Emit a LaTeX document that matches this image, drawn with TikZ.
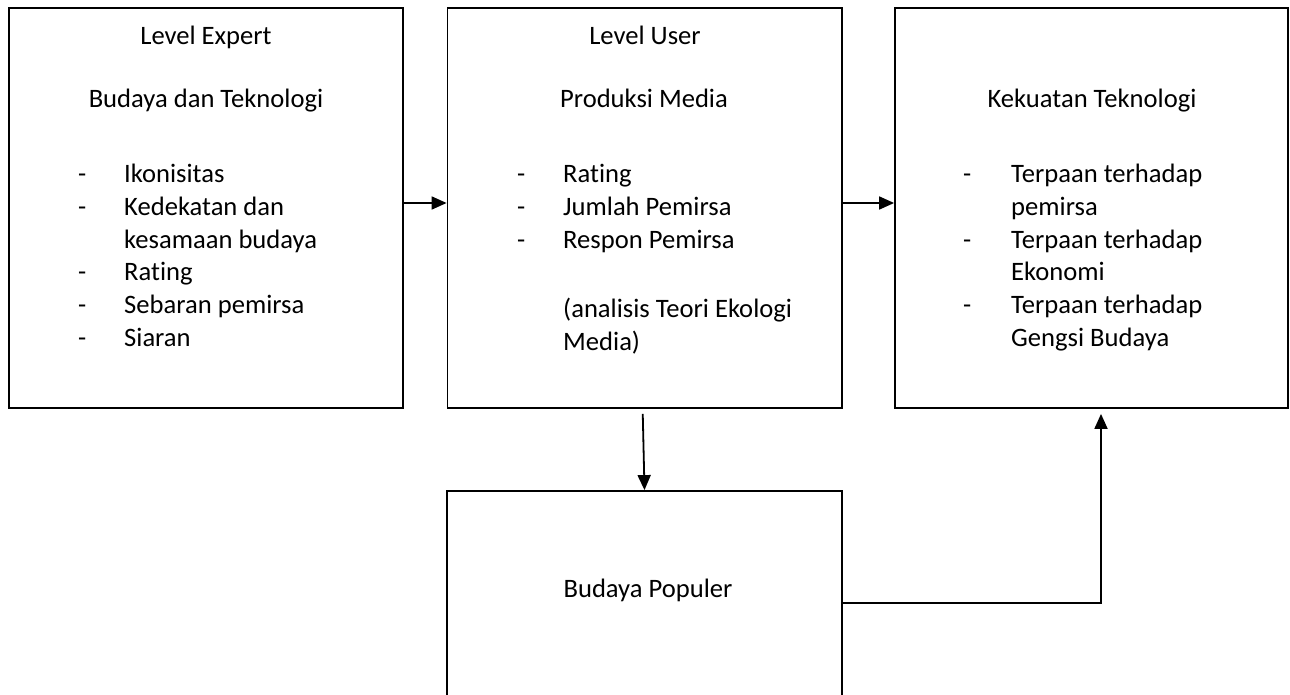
\documentclass[tikz,border=0pt]{standalone}
\usepackage{fontspec}
\setmainfont[Ligatures=NoCommon]{Carlito}
\usetikzlibrary{arrows.meta}
\begin{document}
\begin{tikzpicture}[x=1pt,y=-1pt,
  box/.style={draw,line width=1.8pt,rectangle,inner sep=0pt,minimum width=394pt,minimum height=400pt},
  arr/.style={line width=1.8pt,-{Triangle[length=15pt,width=13pt]}},
  txt/.style={anchor=base west,inner sep=0pt,font=\fontsize{26.6}{32.6}\selectfont},
  ctr/.style={anchor=base,inner sep=0pt,font=\fontsize{26.6}{32.6}\selectfont}]
\useasboundingbox (0,0) rectangle (1290,695);
\clip (0,0) rectangle (1290,695);
% boxes
\node[box] (b1) at (206,208) {};
\node[box,minimum width=394.5pt] (b2) at (644.75,208) {};
\node[box,minimum width=393pt] (b3) at (1091.5,208) {};
\node[box,minimum width=395pt,minimum height=224pt] (b4) at (644.5,603) {};
% box 1 text
\node[ctr] (t1a) at (206,45) {Level Expert};
\node[ctr] (t1b) at (206,108) {Budaya dan Teknologi};
\node[txt] (d11) at (78,183) {-};
\node[txt] (l11) at (124,183) {Ikonisitas};
\node[txt] (d12) at (78,215.6) {-};
\node[txt] (l12) at (124,215.6) {Kedekatan dan};
\node[txt] (l12b) at (124,248.2) {kesamaan budaya};
\node[txt] (d13) at (78,280.8) {-};
\node[txt] (l13) at (124,280.8) {Rating};
\node[txt] (d14) at (78,313.4) {-};
\node[txt] (l14) at (124,313.4) {Sebaran pemirsa};
\node[txt] (d15) at (78,346) {-};
\node[txt] (l15) at (124,346) {Siaran};
% box 2 text
\node[ctr] (t2a) at (645,45) {Level User};
\node[ctr] (t2b) at (644,108) {Produksi Media};
\node[txt] (d21) at (517,183) {-};
\node[txt] (l21) at (563,183) {Rating};
\node[txt] (d22) at (517,215.6) {-};
\node[txt] (l22) at (563,215.6) {Jumlah Pemirsa};
\node[txt] (d23) at (517,248.2) {-};
\node[txt] (l23) at (563,248.2) {Respon Pemirsa};
\node[txt] (l24) at (563,317) {(analisis Teori Ekologi};
\node[txt] (l25) at (563,350) {Media)};
% box 3 text
\node[ctr] (t3b) at (1092,108) {Kekuatan Teknologi};
\node[txt] (d31) at (963,183) {-};
\node[txt] (l31) at (1011,183) {Terpaan terhadap};
\node[txt] (l31b) at (1011,215.6) {pemirsa};
\node[txt] (d32) at (963,248.2) {-};
\node[txt] (l32) at (1011,248.2) {Terpaan terhadap};
\node[txt] (l32b) at (1011,280.8) {Ekonomi};
\node[txt] (d33) at (963,313.4) {-};
\node[txt] (l33) at (1011,313.4) {Terpaan terhadap};
\node[txt] (l33b) at (1011,346) {Gengsi Budaya};
% box 4 text
\node[ctr] (t4) at (648,597) {Budaya Populer};
% connectors
\draw[arr] ([yshift=5pt]b1.east) -- ([yshift=5pt]b2.west);
\draw[arr] ([yshift=5pt]b2.east) -- ([yshift=5pt]b3.west);
\draw[arr] ([shift={(-2pt,-5pt)}]b2.south) -- (b4.north);
\coordinate (up) at ([shift={(9.5pt,-5pt)}]b3.south);
\draw[arr] (b4.east) -| (up);
\end{tikzpicture}
\end{document}
